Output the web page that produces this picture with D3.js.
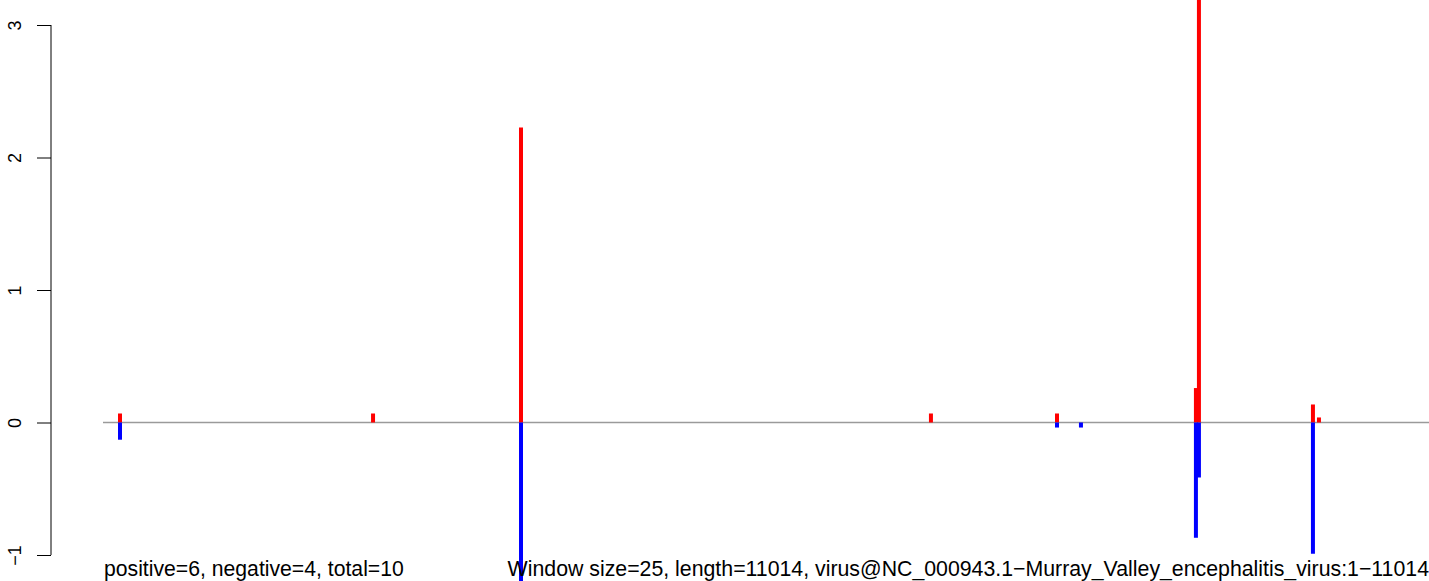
<!DOCTYPE html>
<html><head><meta charset="utf-8">
<script src="https://cdn.jsdelivr.net/npm/d3@7"></script>
<style>html,body{margin:0;padding:0;background:#fff;}svg{display:block;}</style>
</head><body>
<script>
const genomeLength = 11014;
const yTicks = [-1, 0, 1, 2, 3];
const posPositions = [141, 2243, 3472, 6877, 7924, 9078, 9103, 10050, 10100];
const posValues = [0.068, 0.068, 2.226, 0.068, 0.068, 0.26, 3.5, 0.136, 0.038];
const negPositions = [141, 3472, 7924, 8123, 9078, 9103, 10050];
const negValues = [-0.13, -1.25, -0.038, -0.038, -0.87, -0.415, -0.99];
const leftLabel = "positive=6, negative=4, total=10";
const rightLabel = "Window size=25, length=11014, virus@NC_000943.1\u2212Murray_Valley_encephalitis_virus:1\u221211014";

const W = 1429, H = 581;
const svg = d3.select("body").append("svg").attr("width", W).attr("height", H);
const x = d3.scaleLinear().domain([0, genomeLength]).range([103, 1429]);
const y = d3.scaleLinear().domain([-1, 3]).range([555, 25]);

svg.append("defs").append("clipPath").attr("id","c").append("rect")
  .attr("x",0).attr("y",0).attr("width",W).attr("height",H);

// zero line
svg.append("line").attr("x1", x(0)).attr("x2", x(genomeLength))
  .attr("y1", y(0)).attr("y2", y(0)).attr("stroke", "#9a9a9a").attr("stroke-width", 1.5);

const g = svg.append("g").attr("clip-path","url(#c)");
g.selectAll("line.pos").data(posPositions).enter().append("line").attr("class","pos")
  .attr("x1", d => x(d)).attr("x2", d => x(d))
  .attr("y1", y(0)).attr("y2", (d,i) => y(posValues[i]))
  .attr("stroke", "#ff0000").attr("stroke-width", 4);
g.selectAll("line.neg").data(negPositions).enter().append("line").attr("class","neg")
  .attr("x1", d => x(d)).attr("x2", d => x(d))
  .attr("y1", y(0)).attr("y2", (d,i) => y(negValues[i]))
  .attr("stroke", "#0000ff").attr("stroke-width", 4);

// y axis
const axis = d3.axisLeft(y).tickValues(yTicks).tickSize(14).tickFormat(d => d < 0 ? "\u2212" + Math.abs(d) : d);
const ag = svg.append("g").attr("transform", "translate(51,0)").call(axis);
ag.select(".domain").remove();
ag.append("line").attr("x1",0).attr("x2",0).attr("y1",y(-1)).attr("y2",y(3)).attr("stroke","#000").attr("stroke-width",1);
ag.selectAll(".tick line").attr("stroke", "#000").attr("stroke-width", 1);
ag.selectAll(".tick text")
  .attr("x", 0).attr("dy", null)
  .attr("transform", "translate(-30,0) rotate(-90)")
  .attr("text-anchor", "middle")
  .attr("fill", "#000")
  .style("font-family", "'Liberation Sans', Arial, sans-serif").style("font-size", "18px");

// bottom texts
const font = "'Liberation Sans', Arial, sans-serif";
svg.append("text").attr("x", x(0) + 1).attr("y", 576).text(leftLabel)
  .style("font-family", font).style("font-size", "21.2px").attr("fill", "#000");
svg.append("text").attr("x", 1429).attr("y", 576).attr("text-anchor", "end").text(rightLabel)
  .style("font-family", font).style("font-size", "21.3px").attr("fill", "#000");
</script>
</body></html>
